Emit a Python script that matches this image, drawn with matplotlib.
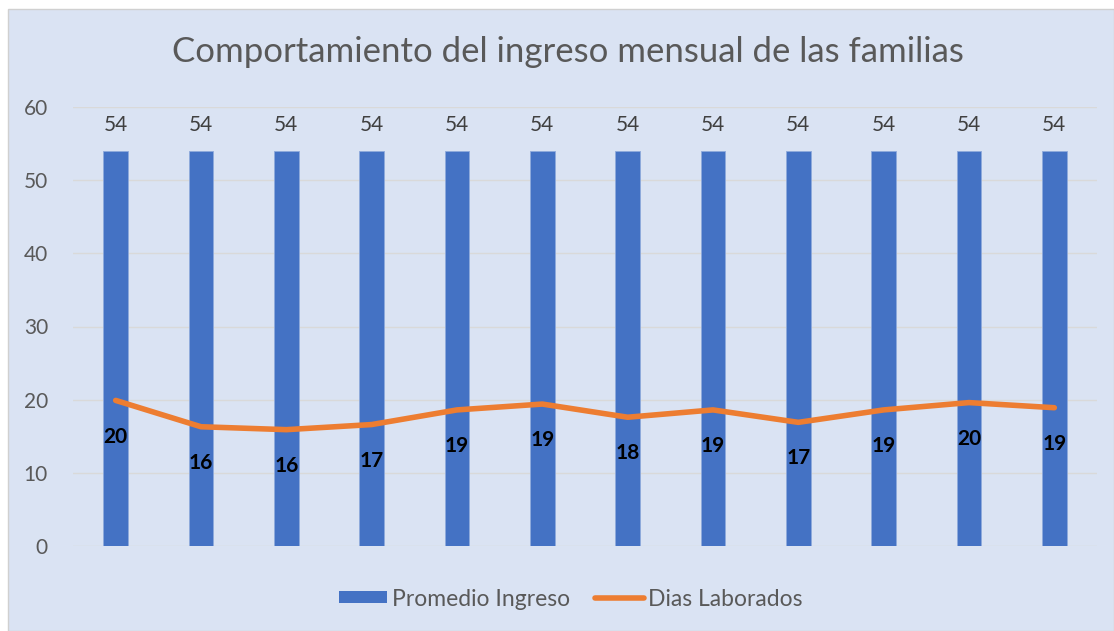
import numpy as np
import matplotlib.pyplot as plt
from matplotlib.patches import Rectangle
from matplotlib.lines import Line2D

plt.rcParams['font.family'] = ['Lato', 'DejaVu Sans']

# datos
meses = list(range(1, 13))
promedio_ingreso = [54, 54, 54, 54, 54, 54, 54, 54, 54, 54, 54, 54]
dias_laborados = [19.9, 16.3, 15.9, 16.6, 18.6, 19.4, 17.6, 18.6, 16.9, 18.6, 19.6, 18.9]

fondo = '#dae3f3'
azul = '#4472c4'
naranja = '#ed7d31'
gris = '#595959'

fig = plt.figure(figsize=(11.14, 6.31), dpi=100)
fig.patch.set_facecolor('white')
marco = Rectangle((8 / 1114, 0), 1 - 8 / 1114, 1 - 9 / 631, transform=fig.transFigure,
                  facecolor=fondo, edgecolor='#d0d0d0', linewidth=1, zorder=-10)
fig.patches.append(marco)

ax = fig.add_axes([73 / 1114, (631 - 546) / 631, (1097 - 73) / 1114, (546 - 107) / 631])
ax.patch.set_alpha(0)

x = np.arange(len(meses))
ax.bar(x, promedio_ingreso, width=0.29, color=azul, edgecolor='#8faadc', linewidth=0.6, zorder=2)
ax.plot(x, dias_laborados, color=naranja, linewidth=4, solid_capstyle='round', zorder=3)

for xi, v in zip(x, promedio_ingreso):
    ax.annotate(str(v), (xi, v), xytext=(0, 19), textcoords='offset points', ha='center', va='center',
                fontsize=15, color='#404040')
for xi, v in zip(x, dias_laborados):
    ax.annotate('%d' % np.floor(v + 0.5), (xi, v), xytext=(0, -26), textcoords='offset points', ha='center',
                va='center', fontsize=15, fontweight='bold', color='black', zorder=4)

ax.set_xlim(-0.5, 11.5)
ax.set_ylim(0, 60)
ax.set_yticks(range(0, 61, 10))
ax.set_xticks([])
ax.grid(axis='y', color='#d9d9d9', linewidth=1, zorder=0)
ax.set_axisbelow(True)
for s in ax.spines.values():
    s.set_visible(False)
ax.tick_params(axis='y', length=0, labelsize=15, labelcolor=gris, pad=18)

fig.text(568 / 1114, 1 - 52 / 631, 'Comportamiento del ingreso mensual de las familias',
         ha='center', va='center', fontsize=25, color=gris)

handles = [Rectangle((0, 0), 1, 1, facecolor=azul),
           Line2D([], [], color=naranja, linewidth=4, solid_capstyle='round')]
fig.legend(handles, ['Promedio Ingreso', 'Dias Laborados'], loc='center', bbox_to_anchor=(571 / 1114, 1 - 599 / 631),
           ncol=2, frameon=False, fontsize=16.5, labelcolor=gris, handlelength=2.1, handleheight=0.45,
           columnspacing=1.1, handletextpad=0.2)

fig.savefig('out.png', dpi=100, facecolor=fig.get_facecolor())
